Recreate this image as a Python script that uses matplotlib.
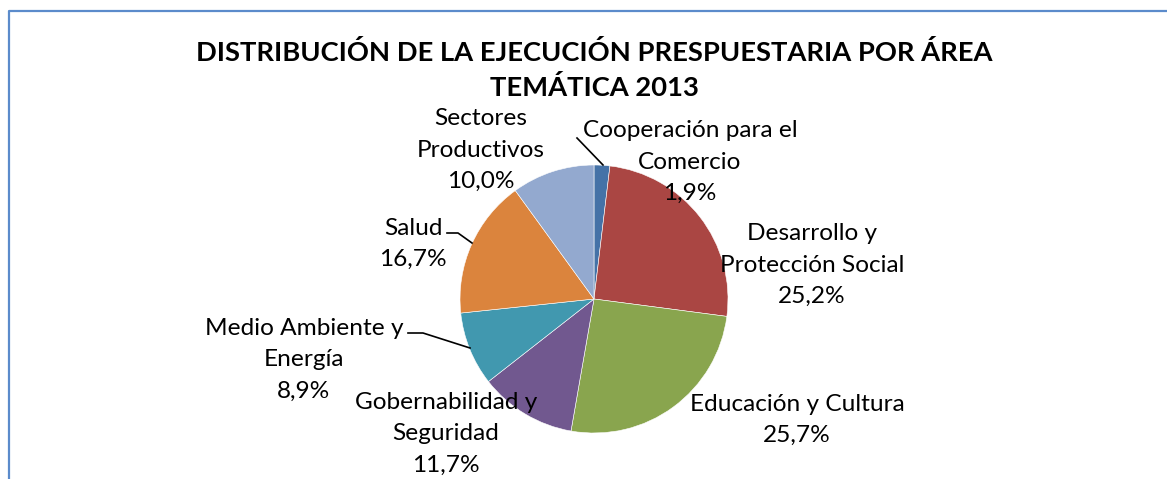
import matplotlib
matplotlib.use("Agg")
import matplotlib.pyplot as plt

categories = ["Cooperación para el\nComercio", "Desarrollo y\nProtección Social",
              "Educación y Cultura", "Gobernabilidad y\nSeguridad",
              "Medio Ambiente y\nEnergía", "Salud", "Sectores\nProductivos"]
values = [1.9, 25.2, 25.7, 11.7, 8.9, 16.7, 10.0]
colors = ["#4572A7", "#AA4643", "#89A54E", "#71588F", "#4198AF", "#DB843D", "#93A9CF"]
title = "DISTRIBUCIÓN DE LA EJECUCIÓN PRESPUESTARIA POR ÁREA\nTEMÁTICA 2013"

W, H = 1167, 479
fig = plt.figure(figsize=(W / 100, H / 100), dpi=100)
ax = fig.add_axes([0, 0, 1, 1])

def Y(y):
    return H - y

font = "Lato"
cx, cy, r = 594, 299, 134
ax.pie(values, colors=colors, startangle=90, counterclock=False,
       center=(cx, Y(cy)), radius=r, frame=True,
       wedgeprops=dict(edgecolor="white", linewidth=0.4))
ax.set_xlim(0, W)
ax.set_ylim(0, H)
ax.set_aspect("equal")
ax.set_axis_off()

# frame (top and left edges)
ax.plot([8.5, 8.5, W], [0, Y(10.5), Y(10.5)], color="#5B8BCB", lw=1.6, solid_capstyle="butt")

ax.text(594, Y(70), title, ha="center", va="center", fontsize=19.7, fontweight="bold",
        family=font, linespacing=1.44)

label_pos = [(690, 162), (812, 265), (797, 420), (446, 434), (304, 360), (413, 244), (481, 150)]
for cat, v, (x, y) in zip(categories, values, label_pos):
    txt = f"{cat}\n{v:.1f}%".replace(".", ",")
    ax.text(x, Y(y), txt, ha="center", va="center", fontsize=17.6, family=font,
            linespacing=1.62)

leaders = [([577, 603], [138, 165]), ([447, 458, 472], [233, 233, 243]),
           ([408, 423, 470], [333, 333, 348])]
for xs, ys in leaders:
    ax.plot(xs, [Y(v) for v in ys], color="black", lw=1.2)

fig.savefig("out.png", dpi=100)
